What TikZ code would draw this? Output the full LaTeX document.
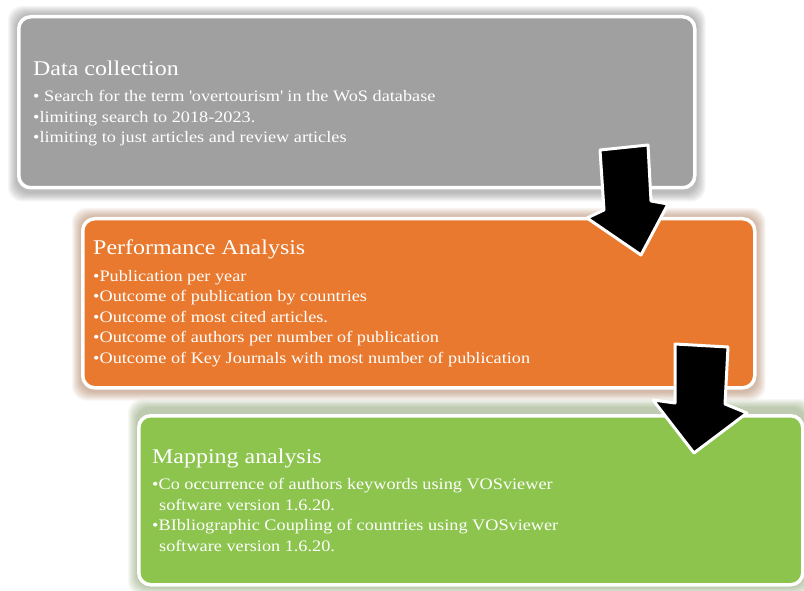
\documentclass[tikz,border=0pt]{standalone}
\usepackage{fontspec}
\setmainfont{Liberation Serif}[FakeStretch=1.14]
\usetikzlibrary{positioning,backgrounds}

\definecolor{collectgray}{RGB}{160,160,160}
\definecolor{perforange}{RGB}{232,121,46}
\definecolor{mapgreen}{RGB}{140,196,78}

\tikzset{
  stagebox/.style={draw=white, line width=3.5pt, rounded corners=12pt, anchor=north west},
  stagetext/.style={text=white, align=left, anchor=west, inner sep=0pt,
    font=\fontsize{16}{20.5}\selectfont},
  glow/.style={opacity=.05, rounded corners=14pt},
  bigarrow/.style={fill=black, draw=white, line width=3pt, line join=round}
}
\newcommand{\stagetitle}[1]{{\fontsize{21}{24}\selectfont #1}\\[6pt]}

\begin{document}
\begin{tikzpicture}[x=1pt,y=-1pt]
    \useasboundingbox (0,0) rectangle (804,591);

    % three stages
    \node[stagebox, fill=collectgray, minimum width=676pt, minimum height=171pt]
      (collect) at (17,15) {};
    \node[stagebox, fill=perforange, minimum width=672pt, minimum height=169pt]
      (perf) at (81,217) {};
    \node[stagebox, fill=mapgreen, minimum width=664pt, minimum height=169pt]
      (mapping) at (137,414) {};

    % soft halos behind the stages
    \begin{scope}[on background layer]
      \foreach \g in {1,...,9} {
        \fill[glow, black!70] ([shift={(-\g,-\g)}]collect.north west)
          rectangle ([shift={(\g,\g+3)}]collect.south east);
        \fill[glow, perforange!60!black] ([shift={(-\g,-\g)}]perf.north west)
          rectangle ([shift={(\g,\g+2)}]perf.south east);
        \fill[glow, mapgreen!60!black] ([shift={(-\g,-\g-6)}]mapping.north west)
          rectangle ([shift={(\g,\g)}]mapping.south east);
      }
    \end{scope}

    \node[stagetext] (collecttxt) at ([xshift=16pt,yshift=-1pt]collect.west) {%
      \stagetitle{Data collection}
      • Search for the term \textquotesingle overtourism\textquotesingle{} in the WoS database\\
      •limiting search to 2018-2023.\\
      •limiting to just articles and review articles};
    \node[stagetext] (perftxt) at ([xshift=12pt]perf.west) {%
      \stagetitle{Performance Analysis}
      •Publication per year\\
      •Outcome of publication by countries\\
      •Outcome of most cited articles.\\
      •Outcome of authors per number of publication\\
      •Outcome of Key Journals with most number of publication};
    \node[stagetext] (mappingtxt) at ([xshift=15pt]mapping.west) {%
      \stagetitle{Mapping analysis}
      •Co occurrence of authors keywords using VOSviewer\\
      \hspace*{7pt}software version 1.6.20.\\
      •BIbliographic Coupling of countries using VOSviewer\\
      \hspace*{7pt}software version 1.6.20.};

    % arrows between the stages
    \draw[bigarrow] (600,150) -- (648,145) -- (651,201) -- (668,204) -- (641,255)
      -- (587,218) -- (604,210) -- cycle;
    \draw[bigarrow] (675,344) -- (728,347) -- (725,404) -- (747,413) -- (694,453)
      -- (653,400) -- (675,403) -- cycle;
\end{tikzpicture}
\end{document}
